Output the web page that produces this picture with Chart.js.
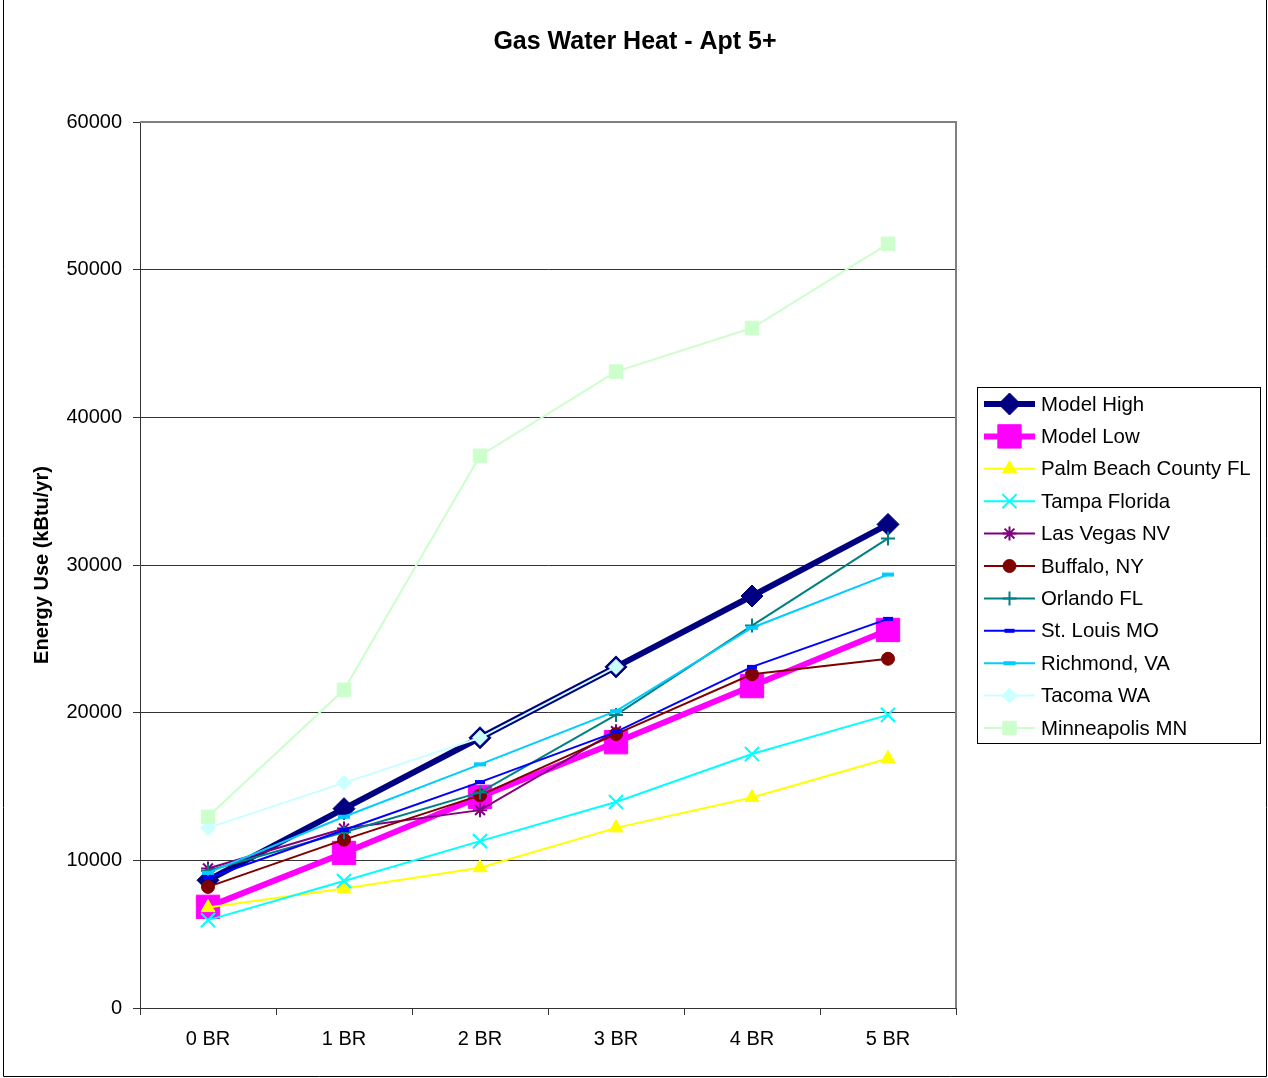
<!DOCTYPE html>
<html><head><meta charset="utf-8">
<script src="https://cdn.jsdelivr.net/npm/chart.js@4.4.1/dist/chart.umd.min.js"></script>
<style>html,body{margin:0;padding:0;background:#fff;} #wrap{width:1268px;height:1078px;position:relative;}</style>
</head><body><div id="wrap"><canvas id="c" width="1268" height="1078"></canvas></div>
<script>
// ---- data ----
const chartTitle = 'Gas Water Heat - Apt 5+';
const categories = ['0 BR', '1 BR', '2 BR', '3 BR', '4 BR', '5 BR'];
const yTicks = [0, 10000, 20000, 30000, 40000, 50000, 60000];
const modelHigh   = [8650, 13500, 18300, 23100, 27900, 32750];
const modelLow    = [6850, 10500, 14300, 18000, 21800, 25600];
const palmBeach   = [6800, 8100, 9500, 12200, 14250, 16900];
const tampa       = [5950, 8600, 11300, 13950, 17200, 19850];
const lasVegas    = [9450, 12150, 13400, 18750, null, null];
const buffalo     = [8200, 11400, 14400, 18550, 22600, 23650];
const orlando     = [9300, 11900, 14600, 19850, 25900, 31800];
const stLouis     = [8800, 12050, 15300, 18700, 23100, 26350];
const richmond    = [9150, 12950, 16500, 20100, 25750, 29350];
const tacoma      = [12200, 15250, 18300, 23100, null, null];
const minneapolis = [12950, 21550, 37400, 43100, 46050, 51750];

const FONT = '"Liberation Sans", Arial, Helvetica, sans-serif';

const seriesDefs = [
  {label:'Model High', data:modelHigh, color:'#000080', width:6, style:'rectRot', r:11, bw:1, fill:'#000080'},
  {label:'Model Low', data:modelLow, color:'#FF00FF', width:6, style:'rect', r:16.5, bw:1, fill:'#FF00FF'},
  {label:'Palm Beach County FL', data:palmBeach, color:'#FFFF00', width:2, style:'triangle', r:8, bw:1, fill:'#FFFF00'},
  {label:'Tampa Florida', data:tampa, color:'#00FFFF', width:2, style:'crossRot', r:10, bw:2, fill:'#00FFFF'},
  {label:'Las Vegas NV', data:lasVegas, color:'#800080', width:2, style:'star', r:7, bw:2, fill:'#800080'},
  {label:'Buffalo, NY', data:buffalo, color:'#800000', width:2, style:'circle', r:6.5, bw:1, fill:'#800000'},
  {label:'Orlando FL', data:orlando, color:'#008080', width:2, style:'cross', r:7, bw:2, fill:'#008080'},
  {label:'St. Louis MO', data:stLouis, color:'#0000FF', width:2, style:'line', r:5, bw:4, fill:'#0000FF'},
  {label:'Richmond, VA', data:richmond, color:'#00CCFF', width:2, style:'line', r:6, bw:4, fill:'#00CCFF'},
  {label:'Tacoma WA', data:tacoma, color:'#CCFFFF', width:2, style:'rectRot', r:7.5, bw:1, fill:'#CCFFFF'},
  {label:'Minneapolis MN', data:minneapolis, color:'#CCFFCC', width:2, style:'rect', r:9.5, bw:1, fill:'#CCFFCC'}
];

const datasets = seriesDefs.map((s, i) => ({
  label: s.label,
  data: s.data,
  borderColor: s.color,
  backgroundColor: s.fill,
  borderWidth: s.width,
  pointStyle: s.style,
  pointRadius: s.r,
  pointHoverRadius: s.r,
  pointBorderWidth: s.bw,
  pointBorderColor: s.color,
  pointBackgroundColor: s.fill,
  tension: 0,
  spanGaps: false,
  order: seriesDefs.length - i
}));

const bgPlugin = {
  id: 'bg',
  beforeDraw(chart) {
    const ctx = chart.ctx;
    ctx.save();
    ctx.fillStyle = '#fff';
    ctx.fillRect(0, 0, chart.width, chart.height);
    ctx.restore();
  },
  beforeDatasetsDraw(chart) {
    const {ctx, chartArea: a} = chart;
    ctx.save();
    ctx.strokeStyle = '#808080';
    ctx.lineWidth = 2;
    ctx.beginPath();
    ctx.moveTo(a.left, a.top);
    ctx.lineTo(a.right, a.top);
    ctx.lineTo(a.right, a.bottom);
    ctx.stroke();
    ctx.restore();
  },
  afterDraw(chart) {
    const ctx = chart.ctx;
    ctx.save();
    // title, centred on the whole canvas
    ctx.fillStyle = '#000';
    ctx.font = 'bold 25px ' + FONT;
    ctx.textAlign = 'center';
    ctx.textBaseline = 'middle';
    ctx.fillText(chartTitle, 635, 42);
    // outer border
    ctx.strokeStyle = '#000';
    ctx.lineWidth = 1;
    ctx.beginPath();
    ctx.moveTo(3.5, 0);
    ctx.lineTo(3.5, 1076.5);
    ctx.lineTo(1266.5, 1076.5);
    ctx.lineTo(1266.5, 0);
    ctx.stroke();
    // legend
    const lx = 977, ly = 387, lw = 283, lh = 356;
    ctx.fillStyle = '#fff';
    ctx.fillRect(lx, ly, lw, lh);
    ctx.strokeStyle = '#000';
    ctx.lineWidth = 1;
    ctx.strokeRect(lx + 0.5, ly + 0.5, lw, lh);
    const rowH = 32.4;
    chart.data.datasets.forEach((ds, i) => {
      const cy = ly + 17 + i * rowH;
      ctx.strokeStyle = ds.borderColor;
      ctx.lineWidth = ds.borderWidth;
      ctx.beginPath();
      ctx.moveTo(984, cy);
      ctx.lineTo(1035, cy);
      ctx.stroke();
      ctx.fillStyle = ds.pointBackgroundColor;
      ctx.strokeStyle = ds.pointBorderColor;
      ctx.lineWidth = ds.pointBorderWidth;
      Chart.helpers.drawPoint(ctx, {pointStyle: ds.pointStyle, radius: ds.pointRadius, rotation: 0, borderWidth: ds.pointBorderWidth}, 1009.5, cy);
      ctx.fillStyle = '#000';
      ctx.font = '20.4px ' + FONT;
      ctx.textAlign = 'left';
      ctx.textBaseline = 'middle';
      ctx.fillText(ds.label, 1041, cy + 1);
    });
    ctx.restore();
  }
};

new Chart(document.getElementById('c'), {
  type: 'line',
  data: {labels: categories, datasets},
  options: {
    responsive: false,
    devicePixelRatio: 1,
    animation: false,
    events: [],
    layout: {padding: {left: 0, right: 312, top: 122, bottom: 0}},
    plugins: {
      legend: {display: false},
      tooltip: {enabled: false},
      title: {display: false}
    },
    scales: {
      x: {
        type: 'category',
        offset: true,
        grid: {display: true, drawOnChartArea: false, offset: true, tickLength: 7, color: '#333', tickColor: '#333'},
        border: {display: true, color: '#333', width: 1},
        ticks: {color: '#000', font: {family: FONT, size: 20}, padding: 12, maxRotation: 0, autoSkip: false},
        afterFit(s) { s.height = 70; }
      },
      y: {
        min: 0, max: 60000,
        afterBuildTicks(s) { s.ticks = yTicks.map(v => ({value: v})); },
        grid: {
          color: (c) => (c.tick && c.tick.value === 60000) ? 'rgba(0,0,0,0)' : '#333',
          tickColor: '#333',
          lineWidth: 1,
          tickLength: 7
        },
        border: {display: true, color: '#333', width: 1},
        ticks: {color: '#000', font: {family: FONT, size: 20}, padding: 11, callback: (v) => String(v)},
        title: {
          display: true,
          text: 'Energy Use (kBtu/yr)',
          color: '#000',
          font: {family: FONT, size: 20, weight: 'bold'},
          padding: {top: 30, bottom: 0}
        },
        afterFit(s) { s.width = 140; }
      }
    }
  },
  plugins: [bgPlugin]
});
</script>
</body></html>
